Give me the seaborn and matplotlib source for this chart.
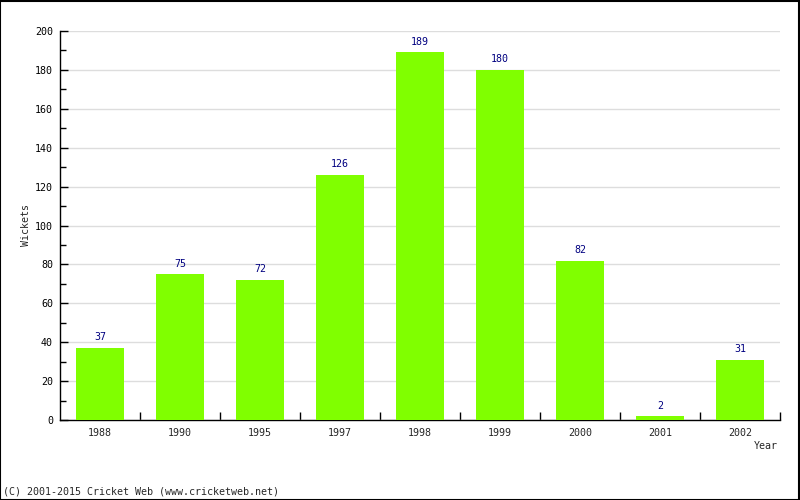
import matplotlib
matplotlib.use("Agg")
import matplotlib.pyplot as plt
import seaborn as sns
import pandas as pd
from matplotlib.ticker import MultipleLocator, FixedLocator

years = ["1988", "1990", "1995", "1997", "1998", "1999", "2000", "2001", "2002"]
wickets = [37, 75, 72, 126, 189, 180, 82, 2, 31]

df = pd.DataFrame({"Year": years, "Wickets": wickets})

sns.set_style("white")
plt.rcParams["font.family"] = ["DejaVu Sans Mono"]

FS = 7.2

fig = plt.figure(figsize=(8, 5), dpi=100)
ax = fig.add_axes([60/800, 80/500, 720/800, 389/500])

sns.barplot(data=df, x="Year", y="Wickets", color="#80ff00", width=0.61,
            saturation=1, linewidth=0, edgecolor="none", ax=ax, zorder=3)

for i, v in enumerate(wickets):
    ax.annotate(str(v), (i, v), xytext=(0, 4), textcoords="offset points",
                ha="center", va="bottom", fontsize=FS, color="#000080")

ax.set_ylim(0, 200)
ax.set_xlim(-0.5, len(years) - 0.5)
ax.yaxis.set_major_locator(MultipleLocator(20))
ax.yaxis.set_minor_locator(MultipleLocator(10))
ax.grid(axis="y", color="#dddddd", linewidth=1, zorder=0)
ax.set_axisbelow(True)

ax.tick_params(axis="y", which="both", left=True)
ax.tick_params(axis="x", which="both", bottom=True)
ax.tick_params(axis="y", which="major", direction="in", length=6, width=1,
               labelsize=FS, pad=5, colors="black")
ax.tick_params(axis="y", which="minor", direction="in", length=4, width=1,
               colors="black")
ax.xaxis.set_minor_locator(FixedLocator([i + 0.5 for i in range(len(years))]))
ax.tick_params(axis="x", which="major", length=0, labelsize=FS, pad=6)
ax.tick_params(axis="x", which="minor", direction="in", length=6, width=1,
               colors="black")

for s in ["top", "right"]:
    ax.spines[s].set_visible(False)
for s in ["left", "bottom"]:
    ax.spines[s].set_color("black")
    ax.spines[s].set_linewidth(1)

ax.set_xlabel("")
ax.set_ylabel("Wickets", fontsize=FS)
ax.yaxis.set_label_coords(-29/720, 0.5)
fig.text(778/800, 1 - 446/500, "Year", ha="right", va="center", fontsize=FS)
fig.text(3/800, 1 - 492/500, "(C) 2001-2015 Cricket Web (www.cricketweb.net)",
         ha="left", va="center", fontsize=FS)

border = plt.Rectangle((0.0005, 0.001), 0.998, 0.997, transform=fig.transFigure,
                       fill=False, edgecolor="black", linewidth=1.5)
fig.patches.append(border)

fig.savefig("out.png", dpi=100)
